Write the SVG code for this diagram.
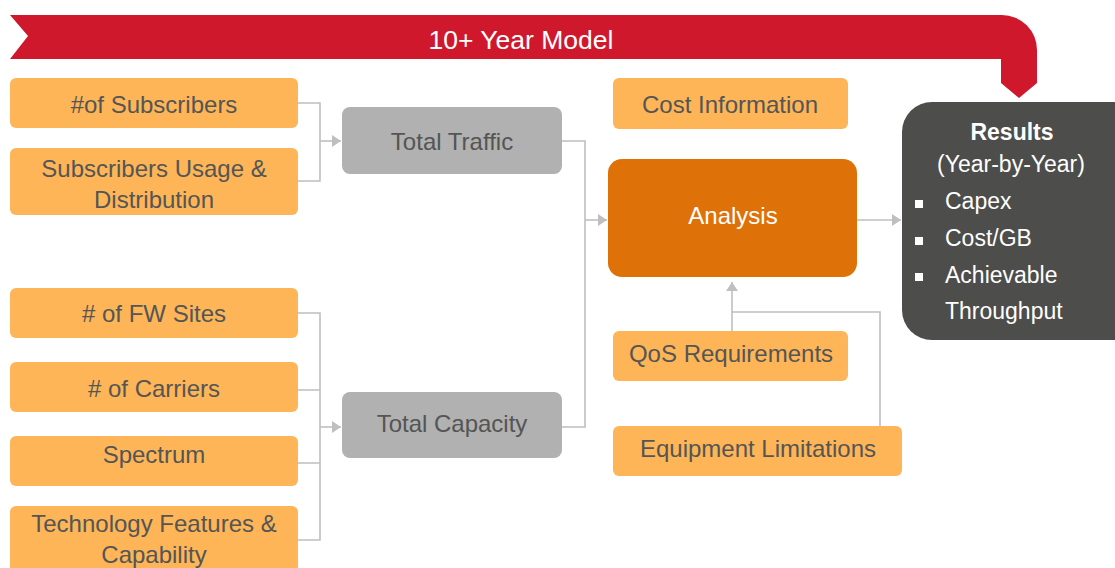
<svg xmlns="http://www.w3.org/2000/svg" width="1115" height="568" viewBox="0 0 1115 568">
  <defs>
    <marker id="arr" markerUnits="userSpaceOnUse" markerWidth="10" markerHeight="12" refX="9" refY="6" orient="auto">
      <path d="M0,0 L9,6 L0,12 Z" fill="#BFBFBF"/>
    </marker>
  </defs>
  <style>
    text { font-family: "Liberation Sans", Arial, sans-serif; }
    .in rect { fill: #FDB557; }
    .in text { font-size: 24px; fill: #555555; text-anchor: middle; }
    .mid rect { fill: #B0B1B0; }
    .mid text { font-size: 24px; fill: #555555; text-anchor: middle; }
    .conn { fill: none; stroke: #BFBFBF; stroke-width: 1.6; }
    .res text { fill: #FFFFFF; font-size: 23px; }
  </style>
  <rect width="1115" height="568" fill="#FFFFFF"/>

  <g id="banner">
    <path d="M10,15 L1002,15 A35,35 0 0 1 1037,50 L1037,83 L1019,98 L1001,83 L1001,59 L10,59 L28,36 Z" fill="#D0182D"/>
    <text x="521" y="49" font-size="26.5" fill="#FFFFFF" text-anchor="middle">10+ Year Model</text>
  </g>

  <g id="connectors">
    <path class="conn" d="M298,103 H320 V181 H298"/>
    <path class="conn" d="M320,141 H341" marker-end="url(#arr)"/>
    <path class="conn" d="M562,141 H585 V427 H562"/>
    <path class="conn" d="M585,220 H607" marker-end="url(#arr)"/>
    <path class="conn" d="M298,313 H320 V540 H298 M298,390 H320 M298,463 H320"/>
    <path class="conn" d="M320,427 H341" marker-end="url(#arr)"/>
    <path class="conn" d="M857,220 H901" marker-end="url(#arr)"/>
    <path class="conn" d="M732,331 V282" marker-end="url(#arr)"/>
    <path class="conn" d="M880,426 V312 H732"/>
  </g>

  <g id="subscribers" class="in">
    <rect x="10" y="78" width="288" height="50" rx="6"/>
    <text x="154" y="113">#of Subscribers</text>
  </g>
  <g id="usage" class="in">
    <rect x="10" y="148" width="288" height="67" rx="6"/>
    <text x="154" y="177">Subscribers Usage &amp;</text>
    <text x="154" y="208">Distribution</text>
  </g>
  <g id="fwsites" class="in">
    <rect x="10" y="288" width="288" height="50" rx="6"/>
    <text x="154" y="322"># of FW Sites</text>
  </g>
  <g id="carriers" class="in">
    <rect x="10" y="362" width="288" height="50" rx="6"/>
    <text x="154" y="397"># of Carriers</text>
  </g>
  <g id="spectrum" class="in">
    <rect x="10" y="436" width="288" height="50" rx="6"/>
    <text x="154" y="463">Spectrum</text>
  </g>
  <g id="technology" class="in">
    <rect x="10" y="506" width="288" height="80" rx="6"/>
    <text x="154" y="532">Technology Features &amp;</text>
    <text x="154" y="563">Capability</text>
  </g>

  <g id="traffic" class="mid">
    <rect x="342" y="107" width="220" height="67" rx="8"/>
    <text x="452" y="150">Total Traffic</text>
  </g>
  <g id="capacity" class="mid">
    <rect x="342" y="392" width="220" height="66" rx="8"/>
    <text x="452" y="432">Total Capacity</text>
  </g>

  <g id="cost" class="in">
    <rect x="613" y="78" width="235" height="51" rx="6"/>
    <text x="730" y="113">Cost Information</text>
  </g>
  <g id="analysis">
    <rect x="608" y="159" width="249" height="118" rx="14" fill="#DF7109"/>
    <text x="733" y="224" font-size="24" fill="#FFFFFF" text-anchor="middle">Analysis</text>
  </g>
  <g id="qos" class="in">
    <rect x="613" y="331" width="235" height="50" rx="6"/>
    <text x="731" y="362">QoS Requirements</text>
  </g>
  <g id="equipment" class="in">
    <rect x="613" y="426" width="289" height="50" rx="6"/>
    <text x="758" y="457">Equipment Limitations</text>
  </g>

  <g id="results" class="res">
    <rect x="902" y="102" width="250" height="238" rx="30" fill="#4D4D4B"/>
    <text x="1012" y="140" font-weight="bold" font-size="22" text-anchor="middle">Results</text>
    <text x="1011" y="172" text-anchor="middle">(Year-by-Year)</text>
    <rect x="915" y="200" width="8" height="8" fill="#FFFFFF"/>
    <text x="945" y="209">Capex</text>
    <rect x="915" y="237" width="8" height="8" fill="#FFFFFF"/>
    <text x="945" y="246">Cost/GB</text>
    <rect x="915" y="273" width="8" height="8" fill="#FFFFFF"/>
    <text x="945" y="283">Achievable</text>
    <text x="945" y="319">Throughput</text>
  </g>
</svg>
